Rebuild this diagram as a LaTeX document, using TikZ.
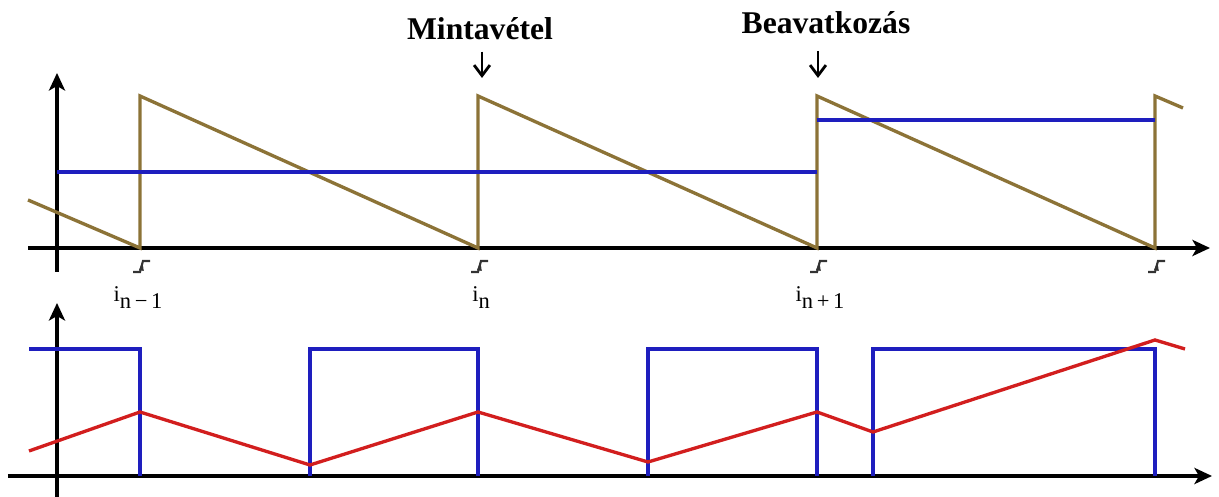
\documentclass[tikz,border=0pt]{standalone}
\usepackage{fontspec}
\setmainfont{Liberation Serif}
\usetikzlibrary{arrows.meta,positioning}
\definecolor{sawbrown}{RGB}{140,115,55}
\definecolor{levelblue}{RGB}{30,30,190}
\definecolor{rampred}{RGB}{210,30,30}

\begin{document}
\begin{tikzpicture}[x=0.1mm,y=-0.1mm,
    axis/.style={line width=0.95pt, -{Stealth[length=5pt,width=4.6pt,inset=1.3pt]}},
    saw/.style={line width=0.95pt, sawbrown},
    level/.style={line width=0.95pt, levelblue},
    ramp/.style={line width=0.95pt, rampred},
    title/.style={font=\bfseries\fontsize{9}{11}\selectfont, inner sep=3pt, anchor=base},
    idx/.style={font=\fontsize{6.4}{8}\selectfont, inner sep=0pt, anchor=base},
    pointer/.style={line width=0.8pt, -{Straight Barb[length=3pt,width=4.5pt]}},
    trig/.style={line width=0.6pt, black!80}]
    \useasboundingbox (0,0) rectangle (1219,497);

    % Upper plot: axes
    \draw[axis] (28,248) -- (1210,248);
    \draw[axis] (57,272) -- (57,73);

    % Sawtooth carrier
    \draw[saw] (28,200) -- (140,248) -- (140,96) -- (478,248) -- (478,96)
        -- (817,248) -- (817,96) -- (1155,248) -- (1155,96) -- (1183,108);

    % Sampled reference
    \draw[level] (57,172) -- (817,172);
    \draw[level] (817,120) -- (1155,120);

    % Trigger marks
    \foreach \t in {140,478,817,1155} {
        \draw[trig] (\t-7,272) -- (\t,272) -- (\t+3,261) -- (\t+10,261);
        \fill[black!80] (\t+2.4,262) -- (\t-1,270) -- (\t+3.8,271) -- cycle;
    }

    % Labels
    \node[idx] (iprev) at (138,302) {i\raisebox{-0.65ex}{n\,−\,1}};
    \node[idx] (inow) at (481,302) {i\raisebox{-0.65ex}{n}};
    \node[idx] (inext) at (820,302) {i\raisebox{-0.65ex}{n\,+\,1}};

    % Titles
    \node[title] (mintavetel) at (480,40) {Mintavétel};
    \node[title] (beavatkozas) at (826,34) {Beavatkozás};
    \coordinate (sample) at (482,78);
    \coordinate (act) at (818,78);
    \draw[pointer] (mintavetel.south -| sample) -- (sample);
    \draw[pointer, shorten <=1.5pt] (beavatkozas.south -| act) -- (act);

    % Lower plot: axes
    \draw[axis] (8,476) -- (1212,476);
    \draw[axis] (57,497) -- (57,303);

    % PWM output
    \draw[level] (29,349) -- (140,349) -- (140,476);
    \draw[level] (310,476) -- (310,349) -- (478,349) -- (478,476);
    \draw[level] (648,476) -- (648,349) -- (817,349) -- (817,476);
    \draw[level] (873,476) -- (873,349) -- (1155,349) -- (1155,476);

    % Current
    \draw[ramp] (29,451) -- (140,412) -- (310,465) -- (478,412) -- (648,462)
        -- (817,412) -- (873,432) -- (1155,340) -- (1185,349);
\end{tikzpicture}
\end{document}
